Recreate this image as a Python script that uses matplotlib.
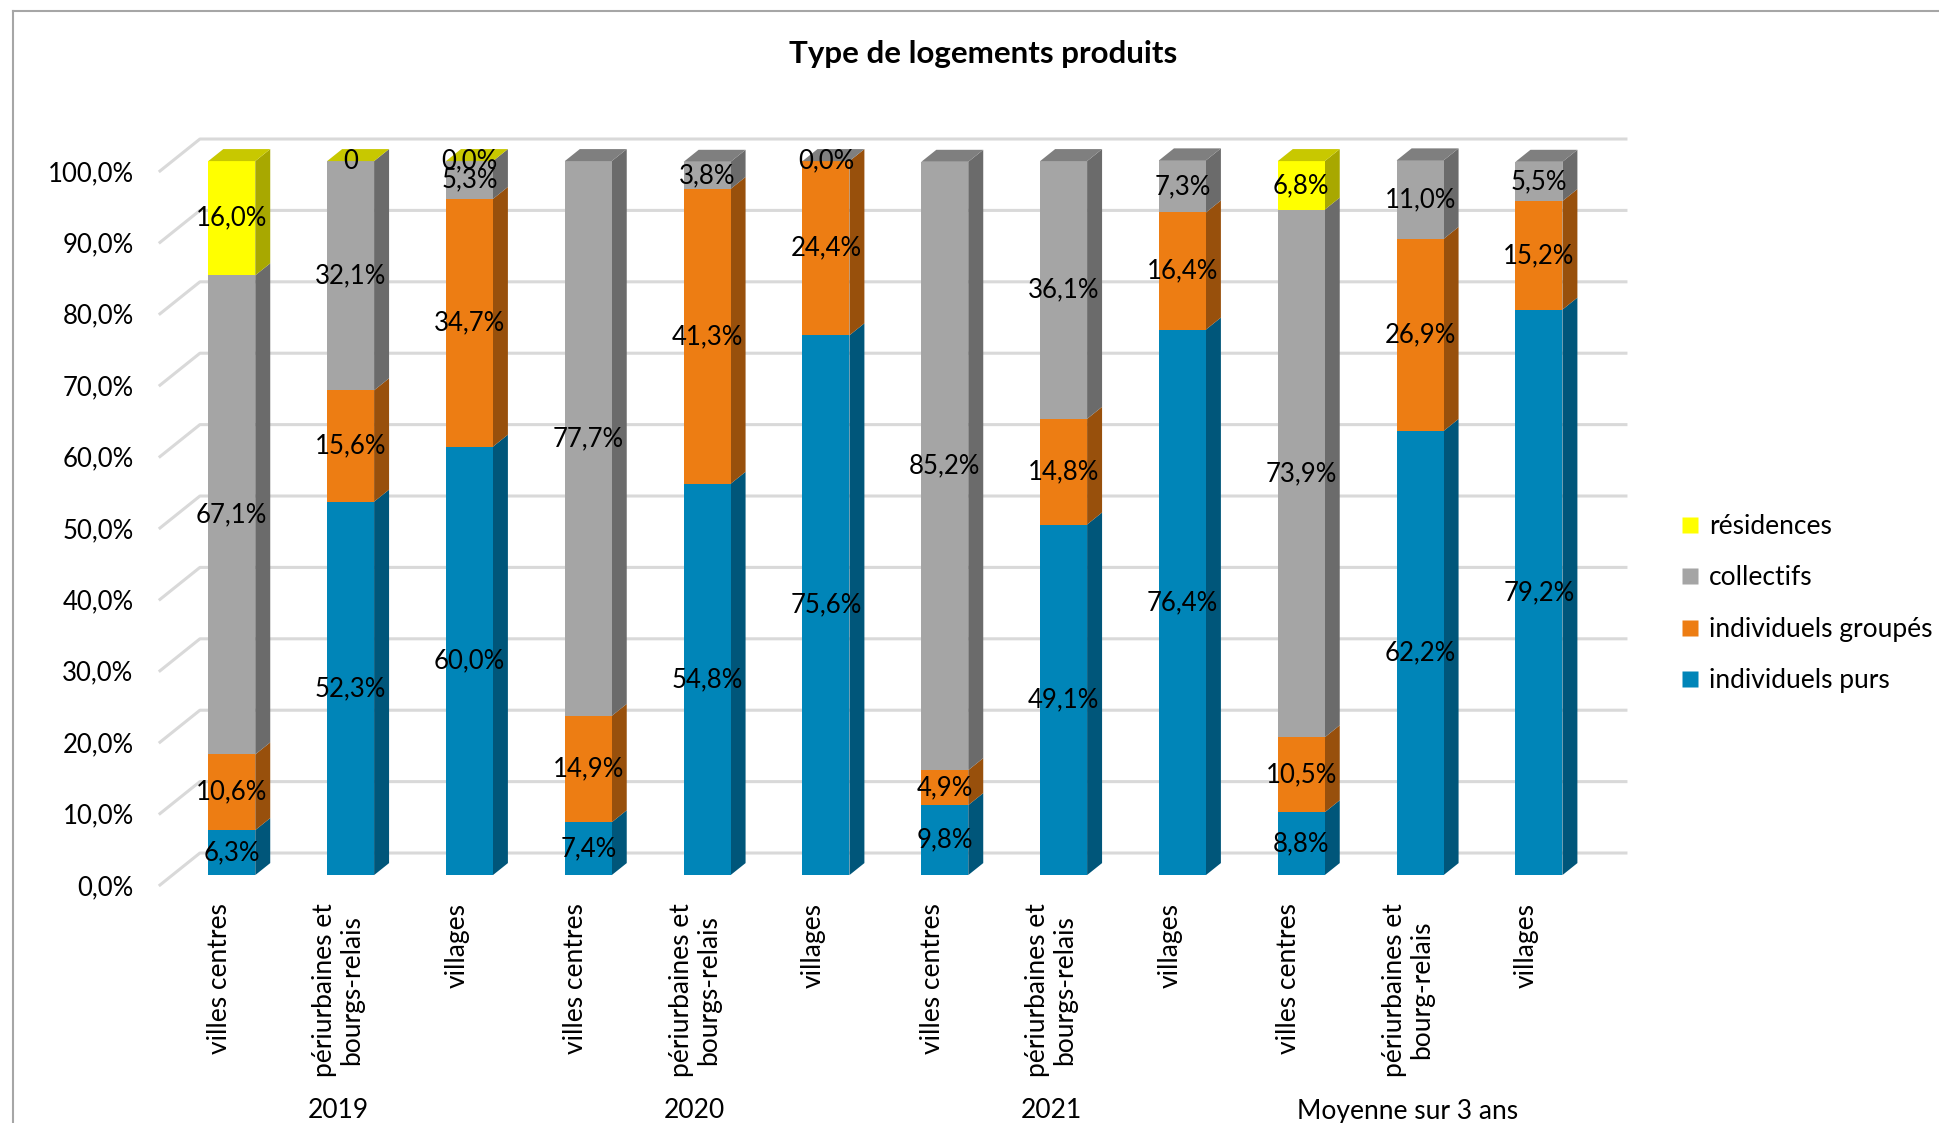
import numpy as np
import matplotlib.pyplot as plt
from matplotlib.patches import Polygon
from matplotlib.lines import Line2D

plt.rcParams['font.family'] = ['Lato', 'DejaVu Sans']

categories = ["villes centres", "périurbaines et\nbourgs-relais", "villages",
              "villes centres", "périurbaines et\nbourgs-relais", "villages",
              "villes centres", "périurbaines et\nbourgs-relais", "villages",
              "villes centres", "périurbaines et\nbourg-relais", "villages"]
groups = ["2019", "2020", "2021", "Moyenne sur 3 ans"]

# stacked from bottom to top
purs = [6.3, 52.3, 60.0, 7.4, 54.8, 75.6, 9.8, 49.1, 76.4, 8.8, 62.2, 79.2]
groupes = [10.6, 15.6, 34.7, 14.9, 41.3, 24.4, 4.9, 14.8, 16.4, 10.5, 26.9, 15.2]
collectifs = [67.1, 32.1, 5.3, 77.7, 3.8, 0.0, 85.2, 36.1, 7.3, 73.9, 11.0, 5.5]
residences = [16.0, 0.0, 0.0, None, None, None, None, None, None, 6.8, None, None]
residences_labels = ["16,0%", "0", "0,0%", "", "", "", "", "", "", "6,8%", "", ""]

series_names = ["individuels purs", "individuels groupés", "collectifs", "résidences"]
# front, side, top colours
colors = [("#0085B8", "#00567A", "#006A94"),
          ("#ED7D13", "#98500C", "#BD640F"),
          ("#A5A5A5", "#6B6B6B", "#7F7F7F"),
          ("#FFFF00", "#A8A800", "#C8C800")]

fig = plt.figure(figsize=(19.4, 11.23), dpi=100)
W, H = 1940, 1123
ax = fig.add_axes([160 / W, (H - 885) / H, (1586 - 160) / W, (885 - 171) / H])
ax.set_xlim(-0.5, 11.5)
ax.set_ylim(0, 100)
for s in ax.spines.values():
    s.set_visible(False)

# depth of the 3d floor and of the bars, in data units
DX, DY = 0.336, 4.48
fx, fy = 0.31 * DX, 0.31 * DY
bx, by = 0.375 * DX, 0.375 * DY
bw = 0.395

ticks = np.arange(0, 101, 10)
for v in ticks:
    ax.plot([-0.5, -0.5 + DX, 11.5 + DX], [v, v + DY, v + DY],
            color="#D9D9D9", lw=2.2, clip_on=False, zorder=1)

ax.set_yticks(ticks)
ax.set_yticklabels([f"{v:.1f}%".replace(".", ",") for v in ticks], fontsize=18.5)
ax.tick_params(axis="y", length=0, pad=19)
ax.set_xticks([])

stack = [purs, groupes, collectifs, residences]
for i in range(len(categories)):
    x0 = i - bw / 2 + fx
    x1 = x0 + bw
    bottom = 0.0
    top_color = None
    for k, serie in enumerate(stack):
        v = serie[i]
        if v is None:
            continue
        y0, y1 = bottom + fy, bottom + v + fy
        front, side, topc = colors[k]
        ax.add_patch(Polygon([(x1, y0), (x1 + bx, y0 + by), (x1 + bx, y1 + by), (x1, y1)],
                             closed=True, fc=side, ec="none", clip_on=False, zorder=2))
        ax.add_patch(Polygon([(x0, y0), (x1, y0), (x1, y1), (x0, y1)],
                             closed=True, fc=front, ec="none", clip_on=False, zorder=2))
        if k == 3:
            label = residences_labels[i]
        else:
            label = f"{v:.1f}%".replace(".", ",")
        ax.text(i + fx, (y0 + y1) / 2, label, ha="center", va="center",
                fontsize=18.5, color="black", zorder=5, clip_on=False)
        bottom += v
        top_color = topc
    yt = bottom + fy
    ax.add_patch(Polygon([(x0, yt), (x1, yt), (x1 + bx, yt + by), (x0 + bx, yt + by)],
                         closed=True, fc=top_color, ec="none", clip_on=False, zorder=3))

for i, lab in enumerate(categories):
    ax.annotate(lab, xy=(i, 0), xycoords=("data", "axes fraction"),
                xytext=(0, -18), textcoords="offset pixels",
                rotation=90, ha="center", va="top", multialignment="center",
                fontsize=19, linespacing=1.1)

for g, name in enumerate(groups):
    ax.annotate(name, xy=(3 * g + 1, 0), xycoords=("data", "axes fraction"),
                xytext=(0, -226), textcoords="offset pixels",
                ha="center", va="center", fontsize=19)

fig.text(983 / W, 1 - 54 / H, "Type de logements produits", ha="center", va="center",
         fontsize=22.5, fontweight="bold")

handles = [Line2D([], [], ls="none", marker="s", markersize=12,
                  markerfacecolor=colors[k][0], markeredgecolor="none") for k in range(4)]
order = [3, 2, 1, 0]
fig.legend([handles[k] for k in order], [series_names[k] for k in order],
           loc="upper left", bbox_to_anchor=(1680 / W, 1 - 514 / H), frameon=False,
           fontsize=19, handlelength=0.75, handletextpad=0.35, labelspacing=1.0,
           borderpad=0, borderaxespad=0)

# chart border (top and left edges visible)
fig.add_artist(Line2D([13 / W, 13 / W], [0, 1 - 11 / H], transform=fig.transFigure,
                      color="#A6A6A6", lw=1.5))
fig.add_artist(Line2D([13 / W, 1], [1 - 11 / H, 1 - 11 / H], transform=fig.transFigure,
                      color="#A6A6A6", lw=1.5))

fig.savefig("out.png", dpi=100)
